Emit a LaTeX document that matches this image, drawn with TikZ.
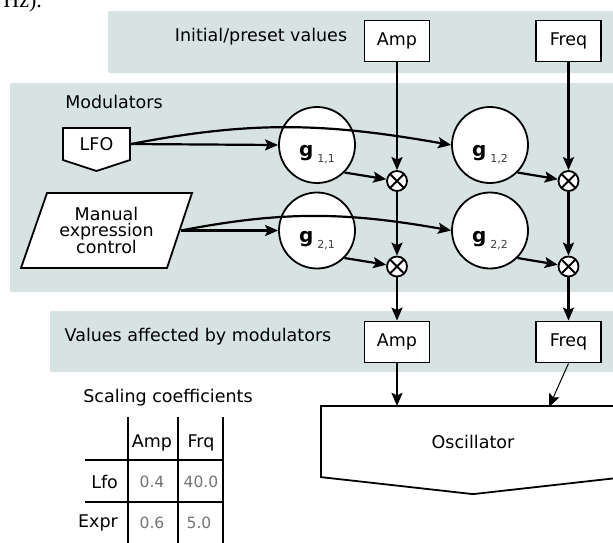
\documentclass[tikz,border=0pt]{standalone}
\usepackage{fontspec}
\setmainfont{DejaVu Sans}
\newfontfamily\hzfont{Liberation Serif}
\usetikzlibrary{arrows.meta}
\definecolor{bandblue}{RGB}{214,227,226}
\newcommand{\gname}[1]{{\fontsize{20}{20}\selectfont\bfseries g}\hspace{4pt}\raisebox{-6pt}{\fontsize{11}{11}\selectfont\color{black!75}#1}}

\begin{document}
\begin{tikzpicture}[->,>={Stealth[length=13pt,width=11pt,inset=2.5pt]},x=1pt,y=1pt,line width=2.2pt,node distance=85.5pt,
    font=\fontsize{17.5}{16}\selectfont,
    band/.style={-,fill=bandblue,rounded corners=2pt},
    param/.style={draw,fill=white,minimum width=65pt,minimum height=41pt,inner sep=0pt,line width=1.9pt},
    gain/.style={circle,draw,fill=white,minimum size=76pt,inner sep=0pt,line width=1.8pt,text height=23pt,text depth=0pt},
    mult/.style={circle,draw,fill=white,minimum size=20pt,inner sep=0pt,line width=1.8pt,
        path picture={\draw[-,line width=2pt] (path picture bounding box.north west) -- (path picture bounding box.south east)
            (path picture bounding box.south west) -- (path picture bounding box.north east);}},
    coef/.style={text=black!55,font=\fontsize{15.5}{16}\selectfont}]
    \useasboundingbox (0,0) rectangle (613,-542);
    % shaded bands
    \path[band] (108,-11) rectangle (617,-73);
    \path[band] (10,-83) rectangle (617,-292);
    \path[band] (50,-311) rectangle (617,-372);
    \node[anchor=base west,font=\hzfont\fontsize{22}{22}\selectfont] (hz) at (-1,-7) {Hz).};
    \node (initial) at (261,-37) {Initial/preset values};
    \node (modlabel) at (114,-102) {Modulators};
    \node (affected) at (198,-337) {Values affected by modulators};
    % parameter boxes
    \node[param] (amp0) at (397,-41) {Amp};
    \node[param] (freq0) at (568.5,-41) {Freq};
    \node[param] (amp1) at (397,-342) {Amp};
    \node[param] (freq1) at (568.5,-342) {Freq};
    % modulator sources
    \filldraw[-,fill=white,line width=1.8pt] (63,-128) -- (130,-128) -- (130,-160) -- (96.5,-171) -- (63,-160) -- cycle;
    \node[minimum width=67pt,minimum height=32pt,inner sep=0pt] (lfo) at (96.5,-144) {LFO};
    \filldraw[-,fill=white,line width=1.8pt] (47,-193) -- (192,-193) -- (167,-268) -- (21,-268) -- cycle;
    \node[align=center,minimum width=147pt,inner sep=0pt] (manual) at (106.5,-230.5) {Manual\\expression\\control};
    % gains and multipliers
    \node[gain] (g11) at (317,-145) {\gname{1,1}};
    \node[gain] (g12) at (490,-145) {\gname{1,2}};
    \node[gain] (g21) [below of=g11] {\gname{2,1}};
    \node[gain] (g22) [below of=g12] {\gname{2,2}};
    \node[mult] (m11) at (397,-181) {};
    \node[mult] (m12) at (568.5,-181) {};
    \node[mult] (m21) [below of=m11] {};
    \node[mult] (m22) [below of=m12] {};
    % oscillator
    \node[minimum width=302pt,minimum height=69pt,inner sep=0pt] (osc) at (473,-441.5) {Oscillator};
    \draw[-,line width=1.8pt] (osc.south west) -- (osc.north west) -- (osc.north east) -- (osc.south east)
        -- ([yshift=-17pt]osc.south) -- cycle;
    \coordinate (oscamp) at (amp1 |- osc.north);
    \coordinate (oscfreq) at (549,-407);
    \path
        (amp0) edge (m11)
        (m11) edge (m21)
        (m21) edge (amp1)
        (freq0) edge (m12)
        (m12) edge (m22)
        (m22) edge (freq1)
        (lfo.east) edge (g11.west)
                   edge [out=11,in=170] (g12.west)
        (manual.east) edge (g21.west)
                      edge [out=11,in=170] (g22.west)
        (g11.-45) edge (m11)
        (g12.-45) edge (m12)
        (g21.-45) edge (m21)
        (g22.-45) edge (m22)
        (amp1) edge (oscamp)
        (freq1.south) edge [line width=1pt] (oscfreq);
    % coefficient table
    \node (scaling) at (168,-398) {Scaling coefficients};
    \foreach \x in {128,178,223}
        \draw[-] (\x,-417) -- (\x,-546);
    \foreach \y in {460,502}
        \draw[-] (85,-\y) -- (223,-\y);
    \node (hamp) at (152,-443) {Amp};
    \node (hfrq) at (201,-443) {Frq};
    \node[anchor=east,inner sep=0pt] (rlfo) at (119,-482) {Lfo};
    \node[anchor=east,inner sep=0pt] (rexpr) at (119,-523) {Expr};
    \node[coef] (c11) at (152,-482) {0.4};
    \node[coef] (c12) at (201,-482) {40.0};
    \node[coef] (c21) at (152,-523) {0.6};
    \node[coef] (c22) at (199,-523) {5.0};
\end{tikzpicture}
\end{document}
